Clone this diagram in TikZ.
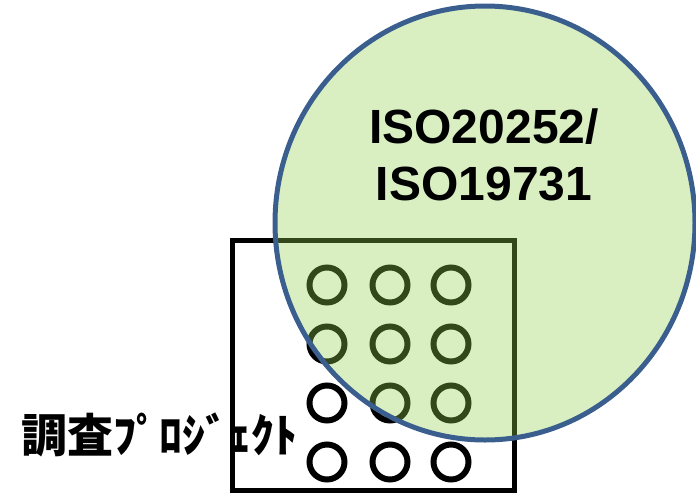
\documentclass[tikz,border=0pt]{standalone}
\usepackage{fontspec}
\usetikzlibrary{shapes.geometric}
\newfontfamily\arialfont{Liberation Sans}
\newfontfamily\jpfont{Noto Sans CJK JP}
\definecolor{circfill}{RGB}{146,208,80}
\definecolor{circline}{RGB}{58,95,142}
\tikzset{
  dot/.style={draw=black, line width=6pt, circle, minimum size=35pt, inner sep=0pt},
  boxline/.style={draw=black, line width=5pt},
}
\begin{document}
\begin{tikzpicture}[x=1pt,y=-1pt]
\useasboundingbox (0,0) rectangle (696,493);
% project box
\node[boxline, minimum width=282pt, minimum height=250pt, inner sep=0pt, anchor=north west] (box) at (230,238) {};
% grid of circles
\foreach \r/\yy in {1/285,2/344,3/403,4/462}{
  \foreach \c/\xx in {1/327,2/390,3/451}{
    \node[dot] (d\r\c) at (\xx,\yy) {};
  }
}
% ISO circle
\node[ellipse, minimum width=420pt, minimum height=434pt, inner sep=0pt, fill=circfill, fill opacity=0.35] (iso) at (485,223) {};
\draw[circline, line width=5pt] (iso.center) ellipse [x radius=210pt, y radius=217pt];
\node[font=\arialfont\bfseries\fontsize{48}{57}\selectfont, align=center, anchor=base] (isotext) at (484,200) {ISO20252/\\ISO19731};
\node[font=\jpfont\bfseries\fontsize{46}{46}\selectfont, anchor=base west, inner sep=0pt] (proj) at (21,452) {調査ﾌﾟﾛｼﾞｪｸﾄ};
\end{tikzpicture}
\end{document}
